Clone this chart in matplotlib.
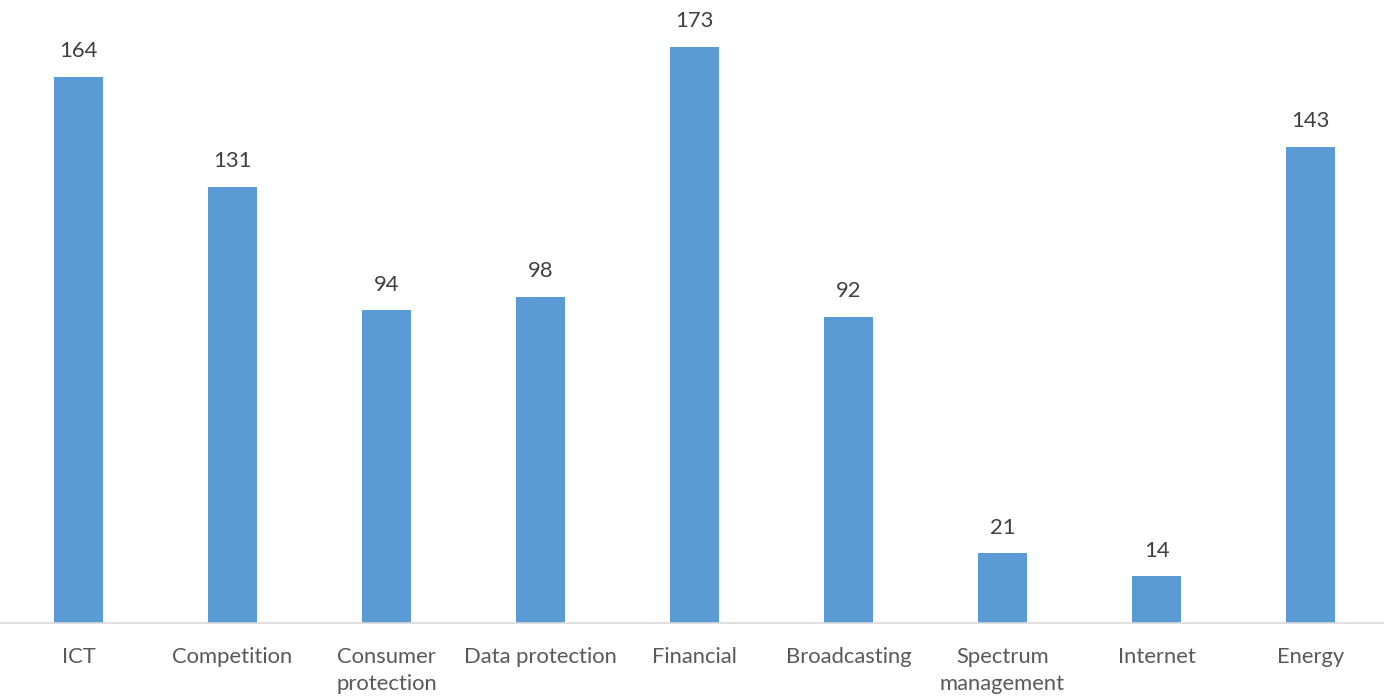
import matplotlib
matplotlib.use('Agg')

import matplotlib.pyplot as plt
import numpy as np

# Number of regulators by domain
categories = ["ICT", "Competition", "Consumer\nprotection", "Data protection", "Financial",
              "Broadcasting", "Spectrum\nmanagement", "Internet", "Energy"]
values = [164, 131, 94, 98, 173, 92, 21, 14, 143]

plt.rcParams['font.family'] = ['Lato', 'DejaVu Sans']

fig = plt.figure(figsize=(13.84, 6.99), dpi=100)
ax = fig.add_axes([0.0, 0.1087, 1.0, 0.8913])

x = np.arange(len(categories))
bars = ax.bar(x, values, width=0.318, color="#5B9BD5", zorder=2)

# Value labels above bars
for rect, v in zip(bars, values):
    ax.annotate(str(v), (rect.get_x() + rect.get_width() / 2, rect.get_height()),
                xytext=(0, 11), textcoords="offset points", ha="center", va="bottom",
                fontsize=15.8, color="#404040")

ax.set_xlim(-0.51, 8.477)
ax.set_ylim(0, 187)
ax.set_xticks(x)
ax.set_xticklabels(categories, fontsize=15.8, color="#595959", linespacing=1.45)
ax.tick_params(axis="x", length=0, pad=17)
ax.set_yticks([])

for side in ["top", "right", "left"]:
    ax.spines[side].set_visible(False)
ax.spines["bottom"].set_color("#D9D9D9")
ax.spines["bottom"].set_linewidth(1.2)

plt.savefig("out.png", dpi=100)
